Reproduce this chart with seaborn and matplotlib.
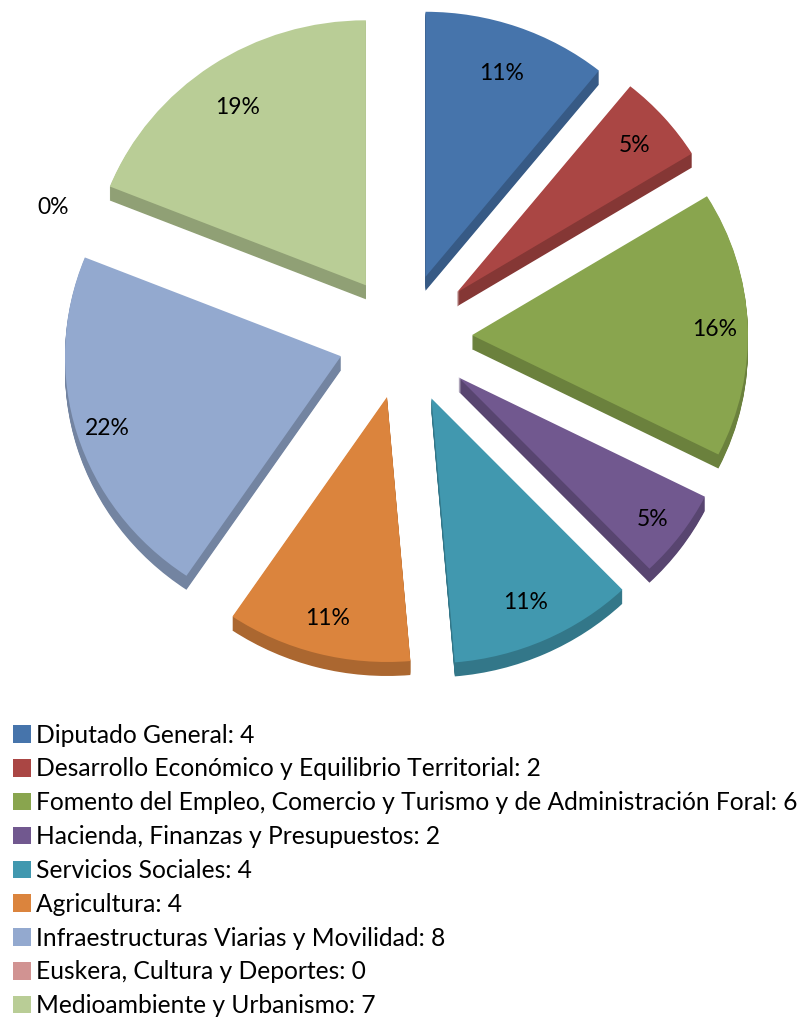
import matplotlib.pyplot as plt
import matplotlib.colors as mcolors
import numpy as np
import pandas as pd
import seaborn as sns

names = ["Diputado General", "Desarrollo Económico y Equilibrio Territorial",
         "Fomento del Empleo, Comercio y Turismo y de Administración Foral",
         "Hacienda, Finanzas y Presupuestos", "Servicios Sociales", "Agricultura",
         "Infraestructuras Viarias y Movilidad", "Euskera, Cultura y Deportes",
         "Medioambiente y Urbanismo"]
seats = [4, 2, 6, 2, 4, 4, 8, 0, 7]
colors = ["#4674AB", "#AA4644", "#89A54E", "#71588F", "#4198AF",
          "#DB843D", "#93A9CF", "#D19392", "#B9CD96"]

# how far each slice is pulled out, and where its percent label sits (radius units)
explode = [0.245, 0.26, 0.25, 0.25, 0.25, 0.23, 0.235, 0.24, 0.24]
label_r = [0.83, 0.86, 0.88, 0.875, 0.83, 0.85, 0.885, 1.125, 0.83]

df = pd.DataFrame({"name": names, "seats": seats})
df["label"] = df["name"] + ": " + df["seats"].astype(str)

sns.set_theme(style="white")
plt.rcParams["font.family"] = ["Lato", "DejaVu Sans"]

fig = plt.figure(figsize=(8, 10.17), dpi=100)
ax = fig.add_axes([0, 0, 1, 1])
palette = sns.color_palette(colors)
side = [tuple(c * 0.78 for c in mcolors.to_rgb(p)) for p in palette]
flat = {"linewidth": 0}

# stacked darker pies give the extruded 3D edge
for d in np.arange(14, 0, -1):
    ax.pie(df["seats"], explode=explode, colors=side, startangle=90, counterclock=False,
           center=(0, -d / 265), radius=1, frame=True, wedgeprops=flat)
wedges, _ = ax.pie(df["seats"], explode=explode, colors=palette, startangle=90,
                   counterclock=False, frame=True, wedgeprops=flat)

total = df["seats"].sum()
for w, v, r in zip(wedges, df["seats"], label_r):
    a = np.deg2rad((w.theta1 + w.theta2) / 2)
    x = w.center[0] + r * np.cos(a)
    y = w.center[1] + r * np.sin(a) - 4 / 265
    ax.text(x, y, f"{v / total:.0%}", ha="center", va="center", fontsize=16.5, color="black")

# the tilted pie is a bit flatter than a circle, so x and y scales differ
ax.set_aspect("auto")
ax.set_xlim(-403 / 276, 397 / 276)
ax.set_ylim((338 - 1017) / 265, 338 / 265)
ax.axis("off")

ax.legend(wedges, df["label"], loc="lower left", bbox_to_anchor=(0.01, -0.005),
          frameon=False, fontsize=17.7, labelspacing=0.44, handlelength=0.72,
          handleheight=0.72, handletextpad=0.22, borderpad=0.2, borderaxespad=0,
          labelcolor="black")

fig.savefig("out.png", dpi=100)
